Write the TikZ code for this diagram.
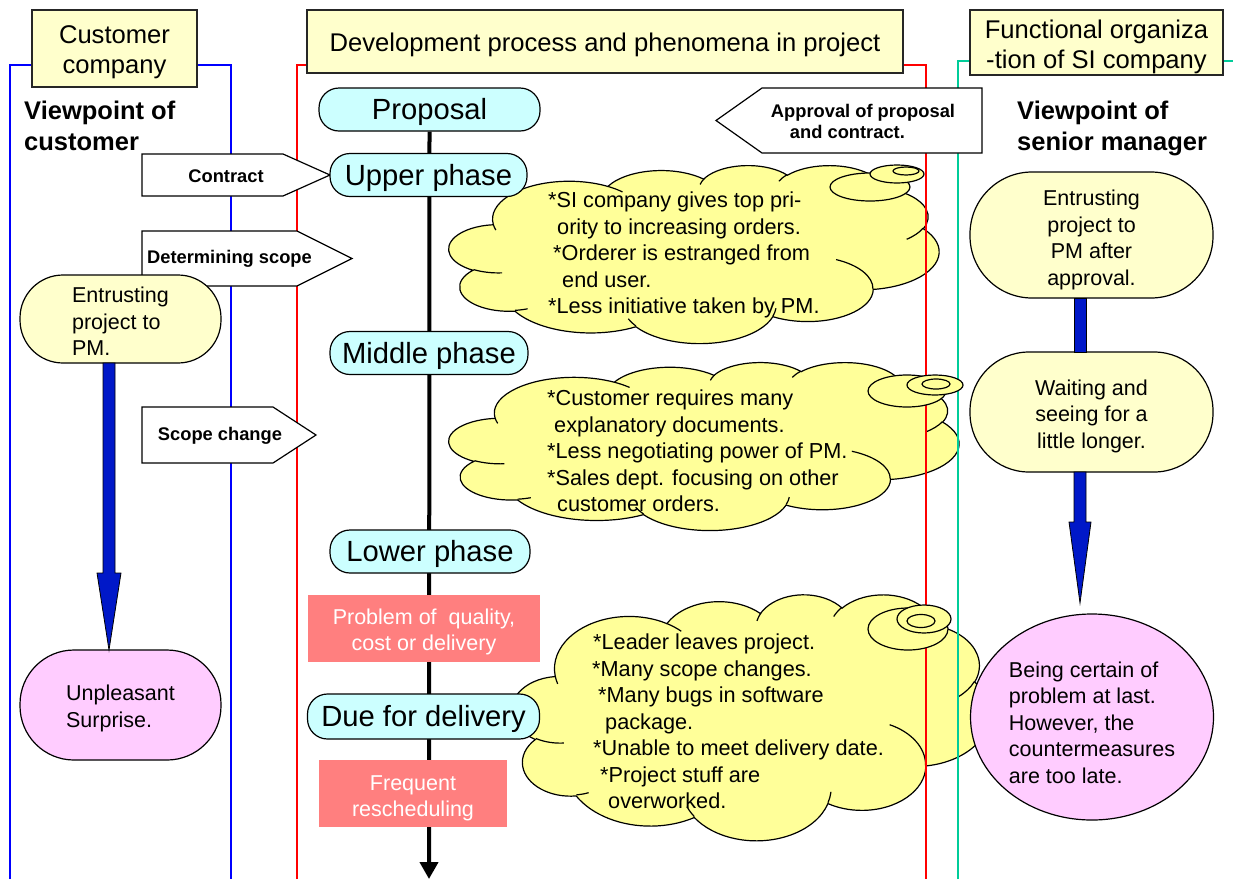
\documentclass[tikz,border=0pt]{standalone}
\usepackage{fontspec}
\setmainfont{Liberation Sans}
\usetikzlibrary{shapes.geometric,arrows.meta,backgrounds}

\definecolor{hdryellow}{HTML}{FFFFCC}
\definecolor{phasecyan}{HTML}{CCFFFF}
\definecolor{cloudyellow}{HTML}{FFFF99}
\definecolor{issuered}{HTML}{FF7F7F}
\definecolor{pinkbox}{HTML}{FFCCFF}
\definecolor{arrowblue}{HTML}{0018C8}
\definecolor{laneteal}{HTML}{00CC99}

% invisible strut that lowers a text block inside its box
\newcommand\liftline[1]{\rule{0pt}{#1pt}}

\tikzset{
  header/.style={draw=black!85, line width=1.5pt, fill=hdryellow, inner sep=0pt,
    font=\fontsize{25.6}{30}\selectfont, align=center},
  phase/.style={draw=black, line width=1.2pt, fill=phasecyan, rounded corners=20pt,
    inner sep=0pt, minimum height=43pt, font=\fontsize{29.2}{32}\selectfont},
  issue/.style={fill=issuered, text=white, inner sep=0pt,
    font=\fontsize{21.5}{26}\selectfont, align=center},
  stadium/.style={draw=black, line width=1.2pt, inner sep=0pt,
    font=\fontsize{21.5}{26.5}\selectfont},
  cloudline/.style={draw=black, line width=1.2pt},
  puffring/.style={draw=black, line width=1.2pt, fill=cloudyellow},
  cloudtext/.style={anchor=north west, inner sep=0pt, align=left,
    font=\fontsize{21.7}{26.5}\selectfont},
  tag/.style={draw=black, line width=1.2pt, fill=white},
  taglabel/.style={inner sep=0pt, align=left, font=\bfseries\fontsize{18.3}{21}\selectfont},
  viewpoint/.style={anchor=north west, inner sep=0pt, align=left,
    font=\bfseries\fontsize{25.5}{31}\selectfont},
  bigarrow/.style={draw=black, line width=0.8pt, fill=arrowblue},
  lane/.style={line width=1.5pt},
  % elliptical arc given by radii, start angle and sweep of the cloud outline
  % (angles measured clockwise on the ellipse's own frame)
  ooarc/.style n args={4}{insert path={
    arc[x radius={(#1)*\csx*1pt}, y radius={(#2)*\csy*1pt},
        start angle={-atan2((#1)*sin(#3),(#2)*cos(#3))},
        delta angle={-mod(atan2((#1)*sin((#3)+(#4)),(#2)*cos((#3)+(#4)))-atan2((#1)*sin(#3),(#2)*cos(#3))+720,360)}]}},
}

% thought cloud in a 4320 x 4320 frame, placed with its top left corner at (#1,#2), size #3 x #4
\newcommand\thoughtcloud[4]{%
  \pgfmathsetmacro\csx{#3/4320}%
  \pgfmathsetmacro\csy{#4/4320}%
  \begin{scope}[shift={(#1,#2)}, x=\csx pt, y=-\csy pt]
    \path[cloudline, fill=cloudyellow] (390,1437)
      [ooarc={675.3}{919.0}{-190.4875}{123.7805}]
      [ooarc={533.3}{726.7}{-144.1024}{89.9452}]
      [ooarc={436.5}{594.5}{-145.8079}{99.7230}]
      [ooarc={485.7}{659.5}{-130.9861}{117.2417}]
      [ooarc={533.3}{727.3}{-78.7089}{109.0269}]
      [ooarc={677.5}{922.0}{-46.2673}{130.2690}]
      [ooarc={578.5}{786.7}{0.6250}{114.0333}]
      [ooarc={675.2}{921.5}{22.4516}{115.1726}]
      [ooarc={772.0}{1054.3}{66.2426}{75.7110}]
      [ooarc={436.0}{591.8}{-274.9421}{146.7356}]
      [ooarc={434.5}{594.5}{-246.8285}{152.5189}] -- cycle;
    \path[cloudline] (469.3,2617.7) [ooarc={434.5}{594.5}{86.7420}{26.4295}];
    \path[cloudline] (692.8,3489.9) [ooarc={436.0}{591.8}{73.6105}{11.4475}];
    \path[cloudline] (1647.8,3909.0) [ooarc={675.2}{921.5}{137.6242}{14.0811}];
    \path[cloudline] (2882.7,3475.1) [ooarc={675.2}{921.5}{6.4533}{15.9984}];
    \path[cloudline] (3412.9,2295.4) [ooarc={578.5}{786.7}{-70.2924}{70.9174}];
    \path[cloudline] (4179.8,1535.4) [ooarc={533.3}{727.3}{30.3180}{27.7515}];
    \path[cloudline] (3832.4,542.6) [ooarc={485.7}{659.5}{-13.7443}{14.8589}];
    \path[cloudline] (2907.8,395.2) [ooarc={485.7}{659.5}{-149.1815}{18.1954}];
    \path[cloudline] (2214.1,472.0) [ooarc={436.5}{594.5}{-163.4943}{17.6864}];
    \path[cloudline] (1400.0,519.2) [ooarc={675.3}{919.0}{-66.7070}{12.3194}];
    \path[cloudline] (412.7,1578.9) [ooarc={675.3}{919.0}{157.6544}{11.8539}];
  \end{scope}}

\begin{document}
\begin{tikzpicture}[x=1pt,y=-1pt]
\useasboundingbox (0,0) rectangle (1233,879);

% thought clouds
\thoughtcloud{449}{165}{490}{178}
\thoughtcloud{449}{362}{510}{168}
\thoughtcloud{512}{594}{478}{246}

% swim lanes
\draw[lane, blue] (10,879) -- (10,65) -- (32,65);
\draw[lane, blue] (197,65) -- (231,65) -- (231,879);
\draw[lane, red] (297,879) -- (297,65) -- (307,65);
\draw[lane, red] (903,65) -- (926,65) -- (926,879);
\draw[lane, laneteal] (958,879) -- (958,61) -- (970,61);
\draw[lane, laneteal] (1223,61) -- (1233,61);

% cloud tails
\draw[puffring] (870,187) ellipse [x radius=40, y radius=14];
\draw[puffring] (897,174) ellipse [x radius=27, y radius=9];
\draw[puffring] (906,171) ellipse [x radius=13, y radius=4];
\draw[puffring] (907,391) ellipse [x radius=39, y radius=16];
\draw[puffring] (935,385) ellipse [x radius=28, y radius=10];
\draw[puffring] (936,384) ellipse [x radius=14, y radius=5];
\draw[puffring] (908,629) ellipse [x radius=40, y radius=21];
\draw[puffring] (924,619) ellipse [x radius=27, y radius=14];
\draw[puffring] (921,621) ellipse [x radius=14, y radius=6.5];

% cloud texts
\node[cloudtext] (phenoA) at (548,192) {*SI company gives top pri-\\\hspace*{9pt}ority to increasing orders.\\\hspace*{5pt}*Orderer is estranged from\\\hspace*{14pt}end user.\\{}*Less initiative taken by PM.};
\node[cloudtext] (phenoB) at (547,390) {*Customer requires many\\\hspace*{7pt}explanatory documents.\\{}*Less negotiating power of PM.\\{}*Sales dept. focusing on other\\\hspace*{10pt}customer orders.};
\node[cloudtext] (phenoC) at (592,634) {\hspace*{1pt}*Leader leaves project.\\{}*Many scope changes.\\\hspace*{6pt}*Many bugs in software\\\hspace*{13pt}package.\\\hspace*{1pt}*Unable to meet delivery date.\\\hspace*{8pt}*Project stuff are\\\hspace*{16pt}overworked.};

% lane headers
\node[header, minimum width=165pt, minimum height=77pt] (hcust) at (114.5,48.5) {\liftline{26}Customer\\company};
\node[header, minimum width=596pt, minimum height=63pt] (hdev) at (605,41.5) {\liftline{26}Development process and phenomena in project};
\node[header, minimum width=253pt, minimum height=65pt] (hfunc) at (1096.5,42.5) {\liftline{28}Functional organiza\\-tion of SI company};

\node[viewpoint] (vcust) at (24,101) {Viewpoint of\\customer};
\node[viewpoint] (vmgr) at (1017,101) {Viewpoint of\\senior manager};

% signal tags between lanes
\draw[tag] (142,154) -- (283,154) -- (330,175) -- (283,196) -- (142,196) -- cycle;
\node[taglabel] (contract) at (226,176) {Contract};
\draw[tag] (142,231) -- (297,231) -- (352,258.5) -- (297,286) -- (142,286) -- cycle;
\node[taglabel] (scope) at (229.5,259) {Determining scope};
\draw[tag] (142,407) -- (273,407) -- (316,435) -- (273,463) -- (142,463) -- cycle;
\node[taglabel] (change) at (220,436) {Scope change};
\draw[tag] (716,120.5) -- (762,88) -- (982,88) -- (982,153) -- (762,153) -- cycle;
\node[taglabel] (approval) at (863,121) {Approval of proposal\\\hspace*{19pt}and contract.};

% development process
\node[phase, minimum width=221pt] (proposal) at (429.5,109.5) {\liftline{27}Proposal};
\node[phase, minimum width=197pt] (upper) at (428.5,175) {\liftline{27}Upper phase};
\node[phase, minimum width=198pt] (middle) at (429,353) {\liftline{27}Middle phase};
\node[phase, minimum width=200pt] (lower) at (430,551.5) {\liftline{26}Lower phase};
\node[issue, minimum width=232pt, minimum height=67pt] (quality) at (424,628.5) {\liftline{22}Problem of\ \ quality,\\cost or delivery};
\node[phase, minimum width=232pt, minimum height=45pt] (due) at (423.5,716.5) {\liftline{27}Due for delivery};
\node[issue, minimum width=188pt, minimum height=67pt] (resched) at (413,793.5) {\liftline{25}Frequent\\rescheduling};
\coordinate (flowend) at (429,879);
\begin{scope}[on background layer]
  \draw[line width=4pt, -{Triangle[width=18pt,length=17pt]}] (proposal.south) -- (flowend);
\end{scope}

% customer lane
\node[stadium, fill=hdryellow, rounded corners=43pt, minimum width=201pt, minimum height=88pt, align=left] (custpm) at (120.5,319) {\liftline{20}Entrusting\\project to\\PM.};
\node[stadium, fill=pinkbox, rounded corners=54pt, minimum width=201pt, minimum height=110pt, align=left] (surprise) at (120.5,705) {\liftline{22}Unpleasant\\Surprise.};
\draw[bigarrow] (103,363) -- (103,573) -- (97,573) -- (109,650) -- (121,573) -- (115,573) -- (115,363) -- cycle;

% senior manager lane
\node[stadium, fill=hdryellow, rounded corners=62pt, minimum width=243pt, minimum height=126pt, align=center] (mgrpm) at (1091.5,235) {\liftline{25}Entrusting\\project to\\PM after\\approval.};
\node[stadium, fill=hdryellow, rounded corners=59pt, minimum width=243pt, minimum height=120pt, align=center] (waiting) at (1091.5,412) {\liftline{24}Waiting and\\seeing for a\\little longer.};
\node[ellipse, draw=black, line width=1.2pt, fill=pinkbox, inner sep=0pt, minimum width=243pt, minimum height=206pt, align=left, font=\fontsize{21.5}{26.5}\selectfont] (certain) at (1092,717) {\liftline{27}Being certain of\\problem at last.\\However, the\\countermeasures\\are too late.};
\draw[bigarrow] (1074,298) -- (1074,352) -- (1086,352) -- (1086,298) -- cycle;
\draw[bigarrow] (1074,472) -- (1074,522) -- (1069,522) -- (1080,603) -- (1091,522) -- (1086,522) -- (1086,472) -- cycle;
\end{tikzpicture}
\end{document}
